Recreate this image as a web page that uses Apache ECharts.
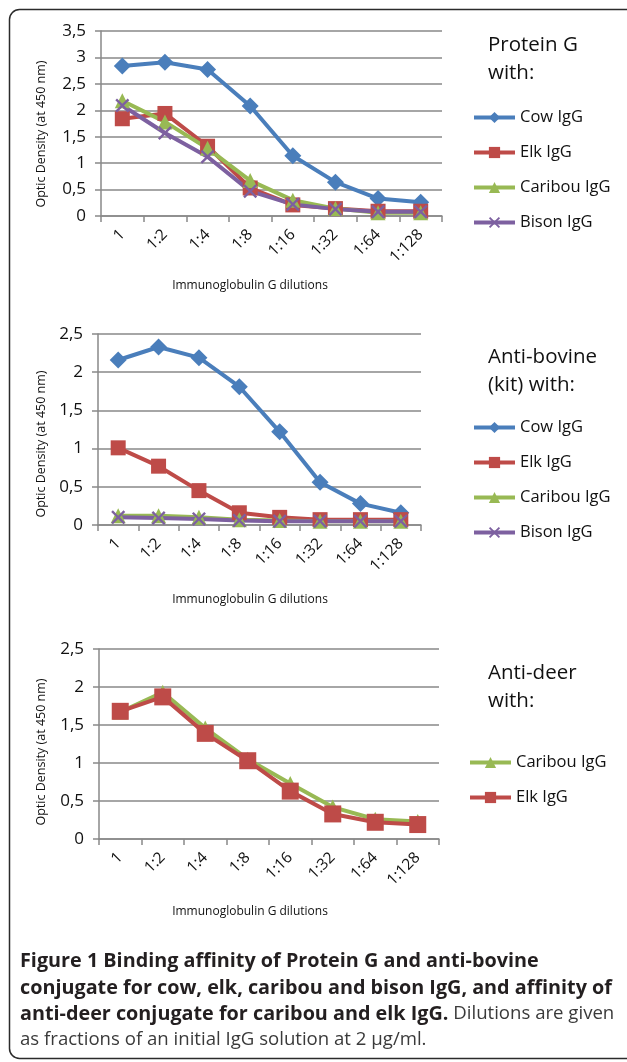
<!DOCTYPE html>
<html>
<head>
<meta charset="utf-8">
<script src="https://cdn.jsdelivr.net/npm/echarts@6/dist/echarts.min.js"></script>
<style>
html,body{margin:0;padding:0;background:#fff;}
#c{width:627px;height:1062px;}
</style>
</head>
<body>
<div id="c"></div>
<script>
// ---- data ----
const dilutions = ['1', '1:2', '1:4', '1:8', '1:16', '1:32', '1:64', '1:128'];

// Chart A: Protein G with
const protG_cow     = [2.84, 2.91, 2.77, 2.08, 1.14, 0.64, 0.33, 0.26];
const protG_elk     = [1.84, 1.94, 1.32, 0.53, 0.21, 0.14, 0.09, 0.09];
const protG_caribou = [2.18, 1.78, 1.28, 0.67, 0.30, 0.14, 0.06, 0.06];
const protG_bison   = [2.09, 1.57, 1.12, 0.47, 0.22, 0.13, 0.08, 0.08];

// Chart B: Anti-bovine (kit) with
const antiBov_cow     = [2.16, 2.33, 2.19, 1.81, 1.22, 0.56, 0.28, 0.16];
const antiBov_elk     = [1.01, 0.77, 0.45, 0.16, 0.10, 0.07, 0.07, 0.07];
const antiBov_caribou = [0.12, 0.12, 0.10, 0.07, 0.06, 0.05, 0.05, 0.05];
const antiBov_bison   = [0.10, 0.09, 0.08, 0.06, 0.05, 0.05, 0.05, 0.05];

// Chart C: Anti-deer with
const antiDeer_caribou = [1.67, 1.93, 1.46, 1.05, 0.73, 0.42, 0.26, 0.23];
const antiDeer_elk     = [1.68, 1.87, 1.39, 1.03, 0.63, 0.33, 0.22, 0.19];

// ---- styling ----
const FONT = 'Open Sans';
const C_BLUE = '#4A7EBB', C_RED = '#BE4B48', C_GREEN = '#98B954', C_PURPLE = '#7D60A0';
const GRIDC = '#898989';
const X_SYMBOL = 'path://M0,1.2 L1.2,0 L5,3.8 L8.8,0 L10,1.2 L6.2,5 L10,8.8 L8.8,10 L5,6.2 L1.2,10 L0,8.8 L3.8,5 Z';

const grids = [
  {left: 101, top: 31, width: 341, height: 185},
  {left: 98, top: 334, width: 323, height: 191},
  {left: 99, top: 649, width: 340, height: 190}
];
const yMax = [3.5, 2.5, 2.5];

function xAxisFor(i){
  return {
    type: 'category', gridIndex: i, data: dilutions, boundaryGap: true,
    axisLine: {show: true, lineStyle: {color: GRIDC, width: 1.5}},
    axisTick: {show: true, length: 6, lineStyle: {color: GRIDC, width: 1.5}},
    axisLabel: {rotate: 45, margin: 16, fontFamily: FONT, fontSize: 15.5, color: '#111'},
    splitLine: {show: false}
  };
}
function yAxisFor(i){
  return {
    type: 'value', gridIndex: i, min: 0, max: yMax[i], interval: 0.5,
    axisLine: {show: true, lineStyle: {color: GRIDC, width: 1.5}},
    axisTick: {show: true, length: 6, lineStyle: {color: GRIDC, width: 1.5}},
    axisLabel: {margin: 15, fontFamily: FONT, fontSize: 17, color: '#111',
      formatter: v => String(v).replace('.', ',')},
    splitLine: {show: true, lineStyle: {color: GRIDC, width: 1.5}}
  };
}
function line(name, data, gi, color, symbol, size){
  return {
    type: 'line', name, data, xAxisIndex: gi, yAxisIndex: gi,
    symbol, symbolSize: size, showAllSymbol: true,
    lineStyle: {color, width: 4},
    itemStyle: {color, borderColor: color, borderWidth: 0},
    emphasis: {disabled: true}, animation: false, z: 3
  };
}
function legendFor(names, left, top){
  return {
    orient: 'vertical', left, top, padding: 0,
    itemWidth: 41, itemHeight: 14, itemGap: 18,
    data: names, selectedMode: false,
    lineStyle: {width: 4},
    textStyle: {fontFamily: FONT, fontSize: 16.5, color: '#111'}
  };
}
function legendTitle(lines, top){
  return {
    text: lines, left: 488, top, padding: 0,
    textStyle: {fontFamily: FONT, fontSize: 20.5, fontWeight: 'normal', color: '#111', lineHeight: 28}
  };
}
function yName(cy){
  return {type: 'text', x: 41, y: cy, rotation: Math.PI/2,
    style: {text: 'Optic Density (at 450 nm)', fontFamily: FONT, fontSize: 12.5, fill: '#111',
      align: 'center', verticalAlign: 'middle'}};
}
function xName(cy){
  return {type: 'text', x: 250, y: cy,
    style: {text: 'Immunoglobulin G dilutions', fontFamily: FONT, fontSize: 12, fill: '#111',
      align: 'center', verticalAlign: 'middle'}};
}

const capBold = {fontFamily: FONT, fontSize: 19.8, fontWeight: 'bold', fill: '#231f20'};
const capNorm = {fontFamily: FONT, fontSize: 18.6, fontWeight: 'normal', fill: '#3a3a3a'};

const option = {
  backgroundColor: '#fff',
  animation: false,
  grid: grids,
  xAxis: [xAxisFor(0), xAxisFor(1), xAxisFor(2)],
  yAxis: [yAxisFor(0), yAxisFor(1), yAxisFor(2)],
  title: [
    legendTitle('Protein G\nwith:', 31),
    legendTitle('Anti-bovine\n(kit) with:', 343),
    legendTitle('Anti-deer\nwith:', 659)
  ],
  legend: [
    legendFor(['Cow IgG', 'Elk IgG', 'Caribou IgG', 'Bison IgG'], 472, 109),
    legendFor(['Cow IgG', 'Elk IgG', 'Caribou IgG', 'Bison IgG'], 472, 419),
    legendFor(['Caribou IgG', 'Elk IgG'], 468, 754)
  ],
  series: [
    line('Cow IgG', protG_cow, 0, C_BLUE, 'diamond', 17),
    line('Elk IgG', protG_elk, 0, C_RED, 'rect', 15),
    line('Caribou IgG', protG_caribou, 0, C_GREEN, 'triangle', 15),
    line('Bison IgG', protG_bison, 0, C_PURPLE, X_SYMBOL, 14),
    line('Cow IgG', antiBov_cow, 1, C_BLUE, 'diamond', 17),
    line('Elk IgG', antiBov_elk, 1, C_RED, 'rect', 15),
    line('Caribou IgG', antiBov_caribou, 1, C_GREEN, 'triangle', 15),
    line('Bison IgG', antiBov_bison, 1, C_PURPLE, X_SYMBOL, 14),
    line('Caribou IgG', antiDeer_caribou, 2, C_GREEN, 'triangle', 15),
    line('Elk IgG', antiDeer_elk, 2, C_RED, 'rect', 17)
  ],
  graphic: [
    {type: 'rect', shape: {x: 9.5, y: 9.5, width: 700, height: 1049, r: 10},
      style: {fill: null, stroke: '#2b2b2b', lineWidth: 1.5}, z: -1, silent: true},
    yName(134), yName(444), yName(752),
    xName(286), xName(600), xName(912),
    {type: 'text', x: 20, y: 961, style: Object.assign({text: 'Figure 1 Binding affinity of Protein G and anti-bovine', verticalAlign: 'middle'}, capBold)},
    {type: 'text', x: 20, y: 988, style: Object.assign({text: 'conjugate for cow, elk, caribou and bison IgG, and affinity of', verticalAlign: 'middle'}, capBold)},
    {type: 'text', x: 20, y: 1014, style: {
      text: '{b|anti-deer conjugate for caribou and elk IgG.}{n| Dilutions are given}', verticalAlign: 'middle',
      rich: {b: capBold, n: capNorm}}},
    {type: 'text', x: 20, y: 1040, style: Object.assign({text: 'as fractions of an initial IgG solution at 2 μg/ml.', verticalAlign: 'middle'}, capNorm)}
  ]
};

const chart = echarts.init(document.getElementById('c'), null, {renderer: 'canvas'});
chart.setOption(option);
</script>
</body>
</html>
